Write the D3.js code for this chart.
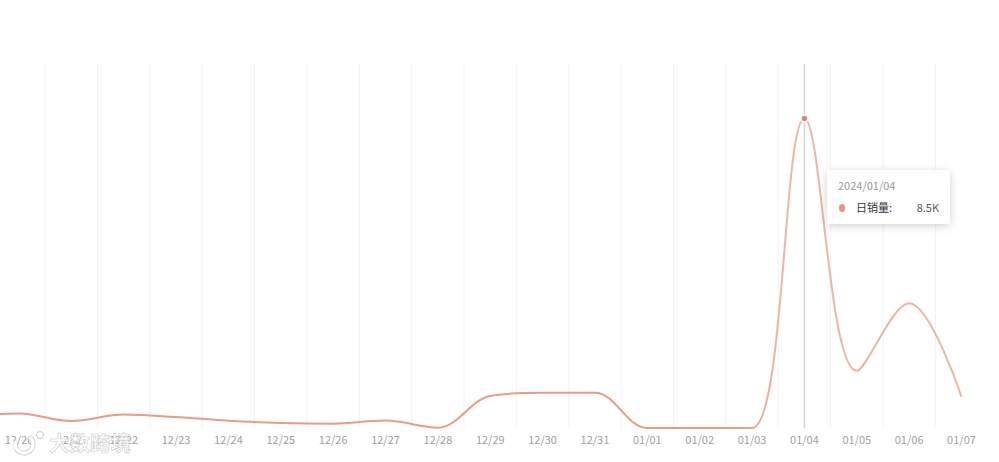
<!DOCTYPE html>
<html>
<head>
<meta charset="utf-8">
<script src="https://cdn.jsdelivr.net/npm/d3@7"></script>
<style>
html, body { margin: 0; padding: 0; background: #fff; }
svg { display: block; }
text { font-family: "Noto Sans CJK SC", "Noto Sans", sans-serif; }
</style>
</head>
<body>
<svg id="chart" width="999" height="462"></svg>
<script>
// first category sits off the left edge, the line comes in from there
var dates = ['12/19', '12/20', '12/21', '12/22', '12/23', '12/24', '12/25', '12/26', '12/27',
  '12/28', '12/29', '12/30', '12/31', '01/01', '01/02', '01/03', '01/04', '01/05', '01/06', '01/07'];
var sales = [330, 400, 190, 370, 300, 200, 140, 120, 205, 10, 880, 970, 970, 0, 0, 0, 8500, 1570, 3430, 860];
var hoverDate = '01/04';

var plotTop = 64, plotBottom = 428;
var bandW = 52.36;
var smooth = 0.36;

var svg = d3.select('#chart');

var x = d3.scaleBand()
  .domain(dates)
  .range([19 - bandW * 1.5, 19 - bandW * 1.5 + bandW * dates.length]);

var y = d3.scaleLinear().domain([0, 10000]).range([plotBottom, plotTop]);

function cx(d) { return x(d) + x.bandwidth() / 2; }

function clamp(v, a, b) {
  return Math.max(Math.min(v, Math.max(a, b)), Math.min(a, b));
}

// d3 curve with clamped bezier handles, so peaks stay round and flat parts stay flat
function curveClampedSmooth(context) {
  var pts;
  return {
    areaStart: function () {},
    areaEnd: function () {},
    lineStart: function () { pts = []; },
    point: function (px, py) { pts.push([+px, +py]); },
    lineEnd: function () {
      var cp0 = pts[0];
      context.moveTo(pts[0][0], pts[0][1]);
      for (var i = 1; i < pts.length; i++) {
        var p = pts[i], prev = pts[i - 1], next = pts[i + 1];
        var cp1 = p, nextCp = p;
        if (next) {
          var lenPrev = Math.hypot(p[0] - prev[0], p[1] - prev[1]);
          var lenNext = Math.hypot(next[0] - p[0], next[1] - p[1]);
          var ratio = lenNext / (lenNext + lenPrev);
          var nx = clamp(p[0] + (next[0] - prev[0]) * smooth * ratio, next[0], p[0]);
          var ny = clamp(p[1] + (next[1] - prev[1]) * smooth * ratio, next[1], p[1]);
          var bx = clamp(p[0] - (nx - p[0]) * lenPrev / lenNext, prev[0], p[0]);
          var by = clamp(p[1] - (ny - p[1]) * lenPrev / lenNext, prev[1], p[1]);
          cp1 = [bx, by];
          nextCp = [p[0] + (p[0] - bx) * lenNext / lenPrev, p[1] + (p[1] - by) * lenNext / lenPrev];
        }
        context.bezierCurveTo(cp0[0], cp0[1], cp1[0], cp1[1], p[0], p[1]);
        cp0 = nextCp;
      }
    }
  };
}

// grid lines on the band edges
svg.append('g').selectAll('line')
  .data(dates.slice(1, -1))
  .enter().append('line')
  .attr('x1', function (d) { return x(d) + x.bandwidth(); })
  .attr('x2', function (d) { return x(d) + x.bandwidth(); })
  .attr('y1', plotTop)
  .attr('y2', plotBottom)
  .attr('stroke', '#f2f2f2')
  .attr('stroke-width', 1);

// x axis labels
var xAxis = d3.axisBottom(x).tickValues(dates.slice(1)).tickSize(0).tickPadding(8);
var axisG = svg.append('g').attr('transform', 'translate(0,' + plotBottom + ')').call(xAxis);
axisG.select('.domain').remove();
axisG.selectAll('text').attr('fill', '#a0a0a0').style('font-size', '11px');

// hover pointer line
svg.append('line')
  .attr('x1', cx(hoverDate))
  .attr('x2', cx(hoverDate))
  .attr('y1', plotTop)
  .attr('y2', plotBottom)
  .attr('stroke', '#d4d4d4')
  .attr('stroke-width', 1.5);

var line = d3.line()
  .x(function (d) { return cx(d.date); })
  .y(function (d) { return y(d.value); })
  .curve(curveClampedSmooth);

var rows = dates.map(function (d, i) { return { date: d, value: sales[i] }; });

var defs = svg.append('defs');

// the line reads paler on the steep part at the right
var grad = defs.append('linearGradient').attr('id', 'lineColor')
  .attr('gradientUnits', 'userSpaceOnUse')
  .attr('x1', 0).attr('x2', 999).attr('y1', 0).attr('y2', 0);
grad.append('stop').attr('offset', '0.74').attr('stop-color', '#ee9a7e');
grad.append('stop').attr('offset', '0.78').attr('stop-color', '#f1b49f');

svg.append('path')
  .datum(rows)
  .attr('fill', 'none')
  .attr('stroke', 'url(#lineColor)')
  .attr('stroke-width', 2)
  .attr('d', line);

var hoverValue = sales[dates.indexOf(hoverDate)];
svg.append('circle')
  .attr('cx', cx(hoverDate))
  .attr('cy', y(hoverValue))
  .attr('r', 3.5)
  .attr('fill', '#ea8466')
  .attr('stroke', '#fff')
  .attr('stroke-width', 1.5);

// tooltip
var shadow = defs.append('filter').attr('id', 'shadow')
  .attr('x', '-20%').attr('y', '-30%').attr('width', '140%').attr('height', '170%');
shadow.append('feDropShadow')
  .attr('dx', 0).attr('dy', 2).attr('stdDeviation', 4)
  .attr('flood-color', '#000').attr('flood-opacity', 0.18);

var tip = svg.append('g').attr('transform', 'translate(827,170)');
tip.append('rect')
  .attr('width', 123).attr('height', 54).attr('rx', 3)
  .attr('fill', '#fff').attr('filter', 'url(#shadow)');
tip.append('text').attr('x', 11).attr('y', 20)
  .attr('fill', '#999').style('font-size', '11px').text('2024/01/04');
tip.append('ellipse').attr('cx', 15).attr('cy', 38).attr('rx', 3).attr('ry', 4).attr('fill', '#ee9378');
tip.append('text').attr('x', 29).attr('y', 42)
  .attr('fill', '#333').style('font-size', '11px').text('日销量:');
tip.append('text').attr('x', 112).attr('y', 42).attr('text-anchor', 'end')
  .attr('fill', '#555').style('font-size', '11px').text('8.5K');

// watermark bottom left
var mark = svg.append('g').attr('fill', 'none');
var markArc = d3.arc()({ innerRadius: 9, outerRadius: 9, startAngle: Math.PI * 0.2, endAngle: Math.PI * 1.6 });
mark.append('path').attr('d', markArc).attr('transform', 'translate(24,444)')
  .attr('stroke', '#c8c8c8').attr('stroke-width', 5);
mark.append('path').attr('d', markArc).attr('transform', 'translate(24,444)')
  .attr('stroke', '#fff').attr('stroke-width', 3.5);
mark.append('line').attr('x1', 10).attr('x2', 13).attr('y1', 434).attr('y2', 452)
  .attr('stroke', '#fff').attr('stroke-width', 3);
mark.append('circle').attr('cx', 40).attr('cy', 435).attr('r', 3.5)
  .attr('stroke', '#c8c8c8').attr('stroke-width', 1).attr('fill', '#fff');
svg.append('text')
  .attr('x', 49).attr('y', 451)
  .attr('fill', '#fff').attr('stroke', '#c8c8c8').attr('stroke-width', 0.6)
  .style('font-size', '20.5px').style('font-weight', 700)
  .text('大数跨境');
</script>
</body>
</html>
